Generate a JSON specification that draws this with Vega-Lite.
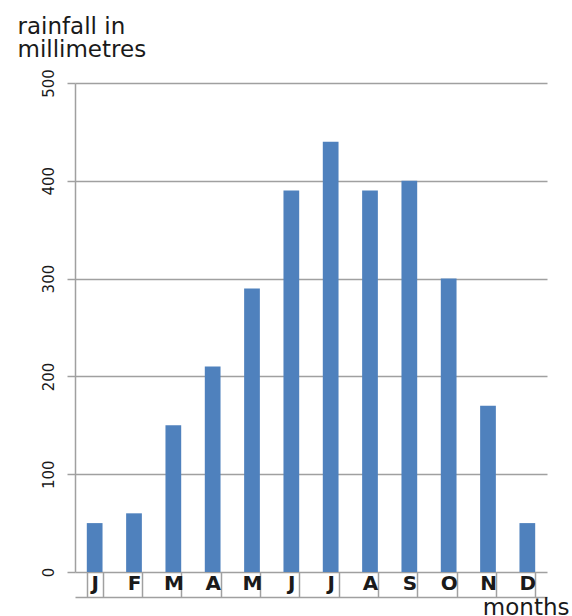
{
  "$schema": "https://vega.github.io/schema/vega-lite/v6.json",
  "width": 472,
  "height": 489,
  "autosize": {"type": "none"},
  "padding": {"left": 75, "top": 83, "right": 25, "bottom": 44},
  "background": "white",
  "config": {
    "view": {"stroke": null},
    "font": "DejaVu Sans"
  },
  "data": {
    "values": [
      {"month": "Jan", "rainfall": 50},
      {"month": "Feb", "rainfall": 60},
      {"month": "Mar", "rainfall": 150},
      {"month": "Apr", "rainfall": 210},
      {"month": "May", "rainfall": 290},
      {"month": "Jun", "rainfall": 390},
      {"month": "Jul", "rainfall": 440},
      {"month": "Aug", "rainfall": 390},
      {"month": "Sep", "rainfall": 400},
      {"month": "Oct", "rainfall": 300},
      {"month": "Nov", "rainfall": 170},
      {"month": "Dec", "rainfall": 50}
    ]
  },
  "mark": {"type": "bar", "color": "#4f81bd"},
  "encoding": {
    "x": {
      "field": "month",
      "type": "nominal",
      "sort": null,
      "scale": {"paddingInner": 0.6, "paddingOuter": 0.3},
      "axis": {
        "title": "months",
        "titleFont": "DejaVu Sans",
        "titleFontSize": 23,
        "titleFontWeight": "normal",
        "titleColor": "#1a1a1a",
        "titleAnchor": "end",
        "titleAlign": "right",
        "titleBaseline": "alphabetic",
        "titleX": 494,
        "titleY": 17,
        "offset": 25,
        "labelAngle": 0,
        "labelExpr": "slice(datum.label, 0, 1)",
        "labelFont": "DejaVu Sans",
        "labelFontSize": 20,
        "labelFontWeight": "bold",
        "labelColor": "#1a1a1a",
        "labelBaseline": "top",
        "labelPadding": 1,
        "tickBand": "extent",
        "tickSize": -25,
        "tickColor": "#a0a0a0",
        "tickWidth": 1.5,
        "domainColor": "#a0a0a0",
        "domainWidth": 1.5
      }
    },
    "y": {
      "field": "rainfall",
      "type": "quantitative",
      "scale": {"domain": [0, 500], "nice": false},
      "axis": {
        "values": [0, 100, 200, 300, 400, 500],
        "title": ["rainfall in", "millimetres"],
        "titleFont": "DejaVu Sans",
        "titleFontSize": 23,
        "titleFontWeight": "normal",
        "titleColor": "#1a1a1a",
        "titleAngle": 0,
        "titleAlign": "left",
        "titleBaseline": "top",
        "titleLineHeight": 23,
        "titleX": -58,
        "titleY": -68,
        "labelAngle": -90,
        "labelAlign": "center",
        "labelBaseline": "alphabetic",
        "labelFont": "DejaVu Sans",
        "labelFontSize": 15,
        "labelColor": "#1a1a1a",
        "labelPadding": 14,
        "tickSize": 8,
        "tickColor": "#a0a0a0",
        "tickWidth": 1.5,
        "domainColor": "#a0a0a0",
        "domainWidth": 1.5,
        "grid": true,
        "gridColor": "#a0a0a0",
        "gridWidth": 1.5
      }
    }
  }
}
